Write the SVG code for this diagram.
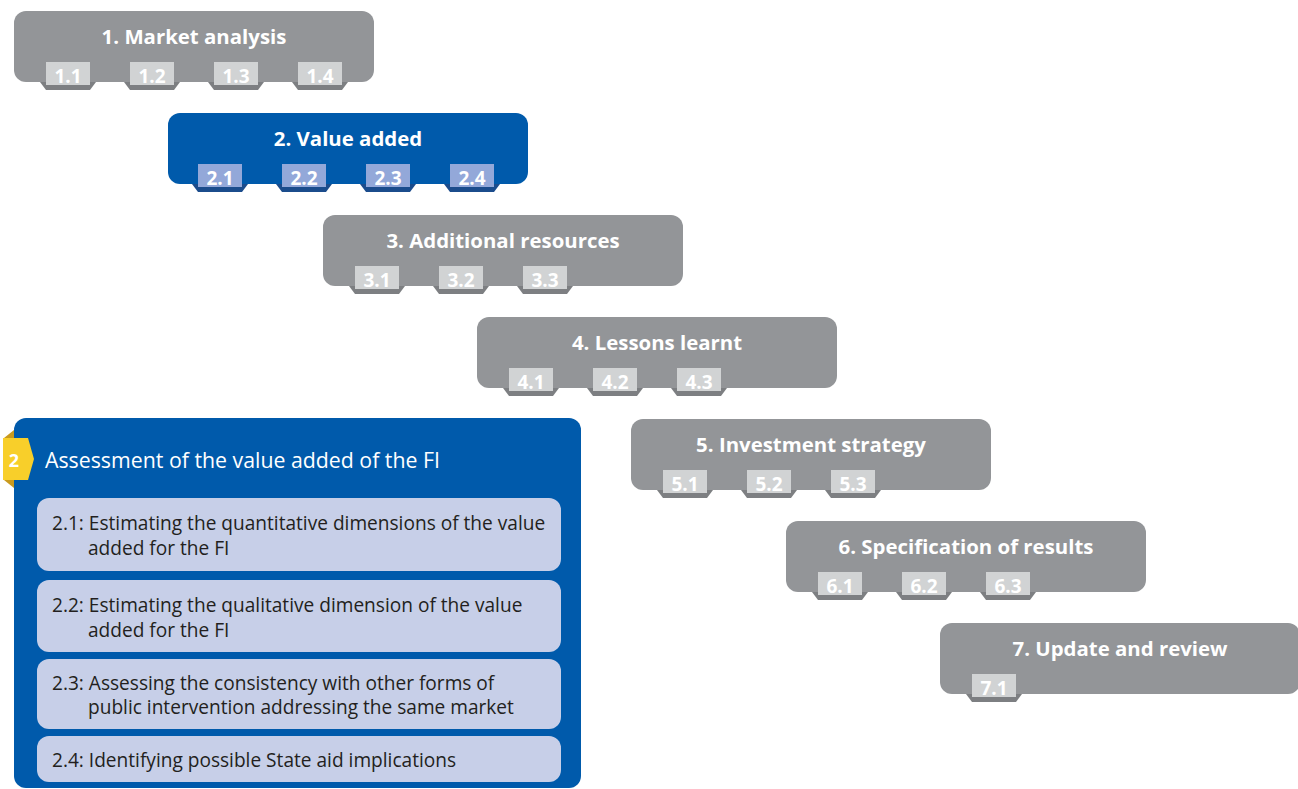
<svg xmlns="http://www.w3.org/2000/svg" width="1298" height="789" viewBox="0 0 1298 789">
<style>
.gbox{fill:#939598}
.bbox{fill:#005aab}
.gtab{fill:#d1d3d4}
.gfold{fill:#7d7f82}
.btab{fill:#93a8d9}
.bfold{fill:#1b4c8c}
.ttl{font-family:"Open Sans",sans-serif;font-weight:bold;font-size:20.4px;fill:#ffffff;text-anchor:middle}
.tab{font-family:"Open Sans",sans-serif;font-weight:bold;font-size:19px;fill:#ffffff;text-anchor:middle}
.sub{fill:#c7cfe8}
.st{font-family:"Open Sans",sans-serif;font-size:19.1px;fill:#231f20}
.pt{font-family:"Open Sans",sans-serif;font-size:21.3px;fill:#ffffff}
</style>
<rect width="1298" height="789" fill="#ffffff"/>
<g id="step1">
<rect class="gbox" x="14" y="11" width="360" height="71" rx="12"/>
<text class="ttl" x="194" y="44">1. Market analysis</text>
<polygon class="gfold" points="40,82 96,82 90,90 46,90"/><rect class="gtab" x="46" y="62" width="44" height="23"/><text class="tab" x="68" y="83">1.1</text>
<polygon class="gfold" points="124,82 180,82 174,90 130,90"/><rect class="gtab" x="130" y="62" width="44" height="23"/><text class="tab" x="152" y="83">1.2</text>
<polygon class="gfold" points="208,82 264,82 258,90 214,90"/><rect class="gtab" x="214" y="62" width="44" height="23"/><text class="tab" x="236" y="83">1.3</text>
<polygon class="gfold" points="292,82 348,82 342,90 298,90"/><rect class="gtab" x="298" y="62" width="44" height="23"/><text class="tab" x="320" y="83">1.4</text>
</g>
<g id="step2">
<rect class="bbox" x="168" y="113" width="360" height="71" rx="12"/>
<text class="ttl" x="348" y="146">2. Value added</text>
<polygon class="bfold" points="192,184 248,184 242,192 198,192"/><rect class="btab" x="198" y="164" width="44" height="23"/><text class="tab" x="220" y="185">2.1</text>
<polygon class="bfold" points="276,184 332,184 326,192 282,192"/><rect class="btab" x="282" y="164" width="44" height="23"/><text class="tab" x="304" y="185">2.2</text>
<polygon class="bfold" points="360,184 416,184 410,192 366,192"/><rect class="btab" x="366" y="164" width="44" height="23"/><text class="tab" x="388" y="185">2.3</text>
<polygon class="bfold" points="444,184 500,184 494,192 450,192"/><rect class="btab" x="450" y="164" width="44" height="23"/><text class="tab" x="472" y="185">2.4</text>
</g>
<g id="step3">
<rect class="gbox" x="323" y="215" width="360" height="71" rx="12"/>
<text class="ttl" x="503" y="248">3. Additional resources</text>
<polygon class="gfold" points="349,286 405,286 399,294 355,294"/><rect class="gtab" x="355" y="266" width="44" height="23"/><text class="tab" x="377" y="287">3.1</text>
<polygon class="gfold" points="433,286 489,286 483,294 439,294"/><rect class="gtab" x="439" y="266" width="44" height="23"/><text class="tab" x="461" y="287">3.2</text>
<polygon class="gfold" points="517,286 573,286 567,294 523,294"/><rect class="gtab" x="523" y="266" width="44" height="23"/><text class="tab" x="545" y="287">3.3</text>
</g>
<g id="step4">
<rect class="gbox" x="477" y="317" width="360" height="71" rx="12"/>
<text class="ttl" x="657" y="350">4. Lessons learnt</text>
<polygon class="gfold" points="503,388 559,388 553,396 509,396"/><rect class="gtab" x="509" y="368" width="44" height="23"/><text class="tab" x="531" y="389">4.1</text>
<polygon class="gfold" points="587,388 643,388 637,396 593,396"/><rect class="gtab" x="593" y="368" width="44" height="23"/><text class="tab" x="615" y="389">4.2</text>
<polygon class="gfold" points="671,388 727,388 721,396 677,396"/><rect class="gtab" x="677" y="368" width="44" height="23"/><text class="tab" x="699" y="389">4.3</text>
</g>
<g id="step5">
<rect class="gbox" x="631" y="419" width="360" height="71" rx="12"/>
<text class="ttl" x="811" y="452">5. Investment strategy</text>
<polygon class="gfold" points="657,490 713,490 707,498 663,498"/><rect class="gtab" x="663" y="470" width="44" height="23"/><text class="tab" x="685" y="491">5.1</text>
<polygon class="gfold" points="741,490 797,490 791,498 747,498"/><rect class="gtab" x="747" y="470" width="44" height="23"/><text class="tab" x="769" y="491">5.2</text>
<polygon class="gfold" points="825,490 881,490 875,498 831,498"/><rect class="gtab" x="831" y="470" width="44" height="23"/><text class="tab" x="853" y="491">5.3</text>
</g>
<g id="step6">
<rect class="gbox" x="786" y="521" width="360" height="71" rx="12"/>
<text class="ttl" x="966" y="554">6. Specification of results</text>
<polygon class="gfold" points="812,592 868,592 862,600 818,600"/><rect class="gtab" x="818" y="572" width="44" height="23"/><text class="tab" x="840" y="593">6.1</text>
<polygon class="gfold" points="896,592 952,592 946,600 902,600"/><rect class="gtab" x="902" y="572" width="44" height="23"/><text class="tab" x="924" y="593">6.2</text>
<polygon class="gfold" points="980,592 1036,592 1030,600 986,600"/><rect class="gtab" x="986" y="572" width="44" height="23"/><text class="tab" x="1008" y="593">6.3</text>
</g>
<g id="step7">
<rect class="gbox" x="940" y="623" width="360" height="71" rx="12"/>
<text class="ttl" x="1120" y="656">7. Update and review</text>
<polygon class="gfold" points="966,694 1022,694 1016,702 972,702"/><rect class="gtab" x="972" y="674" width="44" height="23"/><text class="tab" x="994" y="695">7.1</text>
</g>
<g id="detail">
<rect class="bbox" x="14" y="418" width="567" height="370" rx="12"/>
<polygon fill="#c99a1e" points="4,438 14,430 14,438"/>
<polygon fill="#c99a1e" points="4,480 14,488 14,480"/>
<polygon fill="#f8cf2a" points="3,438 28,438 34,459 28,480 3,480"/>
<text x="14" y="467" font-family="Open Sans, sans-serif" font-weight="bold" font-size="18" fill="#ffffff" text-anchor="middle">2</text>
<text class="pt" x="45" y="468">Assessment of the value added of the FI</text>
<g id="sub1"><rect class="sub" x="37" y="498" width="524" height="73" rx="12"/>
<text class="st" x="52" y="530">2.1: Estimating the quantitative dimensions of the value</text>
<text class="st" x="88" y="555">added for the FI</text></g>
<g id="sub2"><rect class="sub" x="37" y="580" width="524" height="72" rx="12"/>
<text class="st" x="52" y="612">2.2: Estimating the qualitative dimension of the value</text>
<text class="st" x="88" y="637">added for the FI</text></g>
<g id="sub3"><rect class="sub" x="37" y="659" width="524" height="70" rx="12"/>
<text class="st" x="52" y="690">2.3: Assessing the consistency with other forms of</text>
<text class="st" x="88" y="714">public intervention addressing the same market</text></g>
<g id="sub4"><rect class="sub" x="37" y="736" width="524" height="46" rx="12"/>
<text class="st" x="52" y="767">2.4: Identifying possible State aid implications</text></g>
</g>
<g id="connectors"></g>
</svg>
